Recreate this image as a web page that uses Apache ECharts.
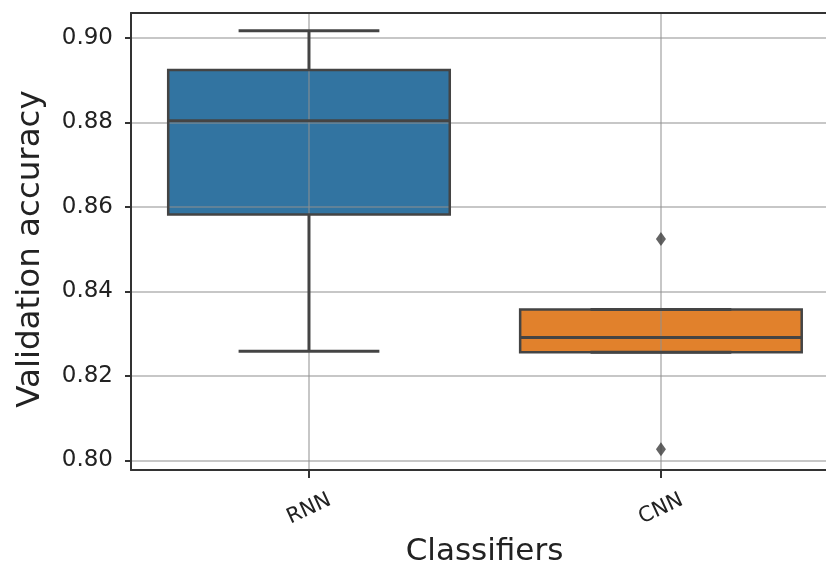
<!DOCTYPE html>
<html>
<head>
<meta charset="utf-8">
<script src="https://cdn.jsdelivr.net/npm/echarts@6/dist/echarts.min.js"></script>
<style>
html,body{margin:0;padding:0;background:#fff;}
#chart{width:826px;height:572px;}
</style>
</head>
<body>
<div id="chart"></div>
<script>
// ---- data ----
const categories = ['RNN', 'CNN'];
const whiskerLow  = [0.8258, 0.8256];
const q1          = [0.8582, 0.8256];
const median      = [0.8804, 0.8291];
const q3          = [0.8924, 0.8357];
const whiskerHigh = [0.9017, 0.8357];
const outlierCategory = [1, 1];
const outlierValue    = [0.8524, 0.8026];
const yTicks = [0.80, 0.82, 0.84, 0.86, 0.88, 0.90];
const xTicks = [0, 1];
const boxColors = ['#3274a1', '#e1812c'];

const boxData = categories.map((c, i) => [i, whiskerLow[i], q1[i], median[i], q3[i], whiskerHigh[i]]);
const outlierData = outlierValue.map((v, i) => [outlierCategory[i], v]);

const LINE = '#444444';
const FONT = 'DejaVu Sans';
const GRIDLINE = { color: 'rgba(143,143,143,0.5)', width: 2 };

function boxGeom(api) {
  const x = api.value(0);
  const pLow = api.coord([x, api.value(1)]);
  const pQ1 = api.coord([x, api.value(2)]);
  const pMed = api.coord([x, api.value(3)]);
  const pQ3 = api.coord([x, api.value(4)]);
  const pHigh = api.coord([x, api.value(5)]);
  const bw = api.size([0.8, 0])[0];
  return { cx: pQ1[0], low: pLow[1], q1: pQ1[1], med: pMed[1], q3: pQ3[1], high: pHigh[1], bw: bw, cw: bw / 2 };
}

const chart = echarts.init(document.getElementById('chart'));
chart.setOption({
  animation: false,
  backgroundColor: '#ffffff',
  grid: { left: 131, top: 13, right: 0, bottom: 102 },
  xAxis: [{
    type: 'value',
    min: -0.5057, max: 1.469,
    z: 3,
    name: 'Classifiers',
    nameLocation: 'middle',
    nameGap: 66,
    nameTextStyle: { fontFamily: FONT, fontSize: 31, color: '#222', padding: [0, 0, 0, 12] },
    axisLine: { show: true, onZero: false, lineStyle: { color: '#333', width: 2 } },
    axisTick: { show: true, length: 8, customValues: xTicks, lineStyle: { color: '#333', width: 2 } },
    axisLabel: {
      customValues: xTicks,
      formatter: v => categories[Math.round(v)],
      rotate: 25, align: 'center', verticalAlign: 'middle', margin: 39,
      fontFamily: FONT, fontSize: 21, color: '#222'
    },
    splitLine: { show: true, lineStyle: GRIDLINE }
  }, {
    type: 'value',
    position: 'top',
    min: -0.5057, max: 1.469,
    z: 3,
    axisLine: { show: true, onZero: false, lineStyle: { color: '#333', width: 2 } },
    axisTick: { show: false },
    axisLabel: { show: false },
    splitLine: { show: false }
  }],
  yAxis: {
    type: 'value',
    min: 0.7977, max: 0.9059,
    z: 3,
    name: 'Validation accuracy',
    nameLocation: 'middle',
    nameGap: 84,
    nameTextStyle: { fontFamily: FONT, fontSize: 32.5, color: '#222', padding: [0, 15, 0, 0] },
    axisLine: { show: true, onZero: false, lineStyle: { color: '#333', width: 2 } },
    axisTick: { show: true, length: 6, customValues: yTicks, lineStyle: { color: '#333', width: 2 } },
    axisLabel: {
      customValues: yTicks,
      formatter: v => v.toFixed(2),
      margin: 18,
      fontFamily: FONT, fontSize: 23, color: '#222'
    },
    splitLine: { show: true, lineStyle: GRIDLINE }
  },
  series: [
    {
      // box fills (below the gridlines)
      type: 'custom',
      z: 1,
      data: boxData,
      renderItem: function (params, api) {
        const g = boxGeom(api);
        return {
          type: 'rect',
          shape: { x: g.cx - g.bw / 2, y: g.q3, width: g.bw, height: g.q1 - g.q3 },
          style: { fill: boxColors[params.dataIndex] }
        };
      }
    },
    {
      // box outlines, whiskers, caps, medians (above the gridlines)
      type: 'custom',
      z: 4,
      data: boxData,
      renderItem: function (params, api) {
        const g = boxGeom(api);
        const ls = { stroke: LINE, lineWidth: 3 };
        return {
          type: 'group',
          children: [
            { type: 'rect', shape: { x: g.cx - g.bw / 2, y: g.q3, width: g.bw, height: g.q1 - g.q3 },
              style: { fill: 'none', stroke: LINE, lineWidth: 2.5 } },
            { type: 'line', shape: { x1: g.cx, y1: g.q1, x2: g.cx, y2: g.low }, style: ls },
            { type: 'line', shape: { x1: g.cx, y1: g.q3, x2: g.cx, y2: g.high }, style: ls },
            { type: 'line', shape: { x1: g.cx - g.bw / 2, y1: g.med, x2: g.cx + g.bw / 2, y2: g.med }, style: ls },
            { type: 'line', shape: { x1: g.cx - g.cw / 2, y1: g.low, x2: g.cx + g.cw / 2, y2: g.low }, style: ls },
            { type: 'line', shape: { x1: g.cx - g.cw / 2, y1: g.high, x2: g.cx + g.cw / 2, y2: g.high }, style: ls }
          ]
        };
      }
    },
    {
      type: 'scatter',
      z: 5,
      data: outlierData,
      symbol: 'diamond',
      symbolSize: [10, 14],
      itemStyle: { color: '#3d3d3d' }
    }
  ]
});
</script>
</body>
</html>
